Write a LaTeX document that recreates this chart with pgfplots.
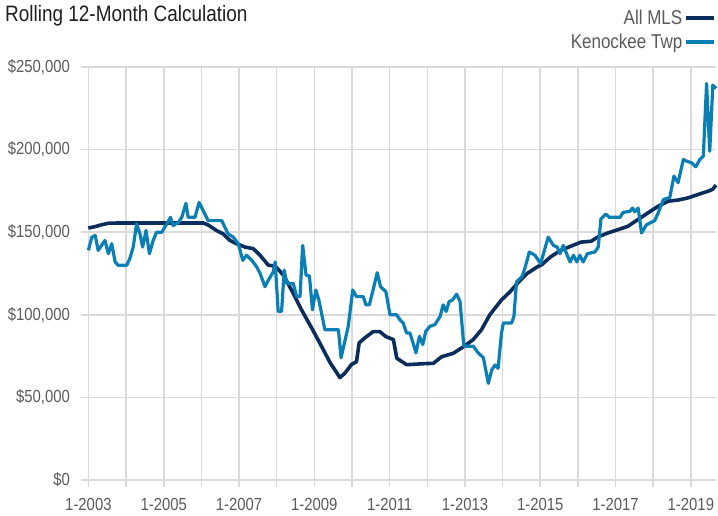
\documentclass[border=0pt]{standalone}
\usepackage{fontspec}
\setmainfont{Liberation Sans}[FakeStretch=0.85]
\usepackage{pgfplots}
\usepackage{pgfplotstable}
\pgfplotsset{compat=1.18}
\definecolor{navy}{HTML}{0B2D5C}
\definecolor{kblue}{HTML}{0A7FB6}
\definecolor{gridc}{HTML}{DADADA}
\definecolor{labc}{HTML}{5A5A5A}

\pgfplotstableread{
t v
2003.0 152.5
2003.2 153.5
2003.35 154.5
2003.55 155.5
2004.0 155.6
2005.0 155.6
2006.05 155.6
2006.18 154.4
2006.4 151
2006.58 149
2006.76 145
2006.94 143
2007.16 141
2007.38 140
2007.56 136
2007.78 130
2007.96 129.5
2008.18 124
2008.44 113
2008.66 103
2008.93 92
2009.19 81
2009.42 71
2009.68 62
2009.81 64.6
2009.99 70
2010.12 71.6
2010.19 83
2010.34 86
2010.56 89.8
2010.74 89.8
2010.9 86.8
2011.1 85
2011.19 73.7
2011.45 69.8
2011.98 70.5
2012.16 70.6
2012.38 74.6
2012.69 76.7
2012.95 80.5
2013.22 85
2013.44 91
2013.66 100
2013.97 109
2014.2 114
2014.43 120
2014.65 125
2014.92 129
2015.05 130.5
2015.27 135
2015.54 139
2015.81 141.5
2016.08 144
2016.35 144.5
2016.52 147
2016.79 149.5
2017.06 151.5
2017.33 153.6
2017.59 157.6
2017.86 161.7
2018.13 165.7
2018.4 168.8
2018.67 169.5
2018.93 170.8
2019.2 172.9
2019.47 174.9
2019.58 176
2019.667 178.5
}\mls

\pgfplotstableread{
t v
2003.0 139
2003.09 147
2003.18 148
2003.26 139
2003.35 142
2003.44 145
2003.53 137
2003.62 143
2003.71 132
2003.79 130
2004.02 130
2004.1 134
2004.19 141
2004.28 155
2004.37 149
2004.44 141
2004.53 151
2004.62 137
2004.72 145
2004.81 150
2004.95 150
2005.08 155
2005.18 159
2005.25 154
2005.39 156
2005.48 159
2005.59 167.5
2005.65 159
2005.83 159
2005.94 168
2006.05 163
2006.18 157
2006.54 157
2006.71 149
2006.85 147
2006.98 143
2007.1 133
2007.2 136
2007.34 133
2007.47 129
2007.56 125
2007.69 117
2007.78 121
2007.91 126
2007.96 132
2008.04 102
2008.13 102
2008.2 127
2008.27 119
2008.44 119
2008.53 111
2008.62 111
2008.69 142
2008.78 124
2008.87 123.5
2008.95 103
2009.04 115
2009.12 109
2009.28 91
2009.64 91
2009.71 74
2009.9 93
2010.02 115
2010.12 111
2010.3 111
2010.37 106
2010.46 106
2010.56 115
2010.67 125.5
2010.76 117
2010.9 114
2011.01 100
2011.19 100
2011.27 97
2011.36 95
2011.45 89
2011.54 89
2011.7 77
2011.79 87
2011.88 82
2011.96 90
2012.07 93
2012.2 94
2012.34 99
2012.42 106
2012.5 102
2012.58 108
2012.67 109
2012.78 112.5
2012.87 108
2012.97 81
2013.22 81
2013.35 77
2013.49 74
2013.62 58.5
2013.71 66.6
2013.8 69.6
2013.88 67.6
2013.97 88.8
2014.02 95
2014.24 95
2014.3 99
2014.37 120
2014.51 123
2014.59 128
2014.71 138
2014.86 136
2015.01 131
2015.21 147
2015.35 142
2015.45 141
2015.52 137
2015.61 142
2015.79 132
2015.88 136
2015.97 132
2016.05 136
2016.14 132
2016.25 137
2016.45 138
2016.54 141
2016.61 158
2016.74 161
2016.83 159
2017.12 159
2017.2 162
2017.38 162.6
2017.45 164.6
2017.51 162.4
2017.6 164.6
2017.69 149.5
2017.82 154.5
2018.04 157
2018.13 161.6
2018.27 169.8
2018.44 171
2018.55 184
2018.66 180
2018.8 194
2018.89 193
2019.02 192
2019.13 189.6
2019.24 194
2019.33 196
2019.417 240
2019.5 199
2019.583 239
2019.667 237
}\kenockee

\begin{document}
\begin{tikzpicture}
\useasboundingbox (-88.4pt,-35pt) rectangle (629.6pt,480pt);
\begin{axis}[
  at={(0,0)}, anchor=south west,
  scale only axis, width=627.6pt, height=413pt,
  xmin=2003, xmax=2019.667, ymin=0, ymax=250,
  axis line style={draw=none},
  xtick={2003,2005,...,2019},
  minor xtick={2004,2006,...,2018},
  xticklabels={1-2003,1-2005,1-2007,1-2009,1-2011,1-2013,1-2015,1-2017,1-2019},
  ytick={0,50,...,250},
  yticklabels={\$0,{\$50,000},{\$100,000},{\$150,000},{\$200,000},{\$250,000}},
  grid=both,
  major grid style={gridc, line width=1.6pt},
  minor grid style={gridc, line width=1.6pt},
  tick style={gridc, line width=1.6pt},
  minor tick style={gridc, line width=1.6pt},
  tick align=outside,
  major tick length=7pt, minor tick length=7pt,
  xtick pos=bottom, ytick pos=left,
  ticklabel style={font=\fontsize{17.5}{20}\selectfont, text=labc},
  xticklabel style={anchor=base, inner sep=0pt, yshift=-23pt},
  yticklabel style={xshift=-8pt},
  clip=false,
  legend plot pos=right,
  legend cell align=right,
  legend style={at={(1,1.143)}, anchor=north east, draw=none, fill=none,
    font=\fontsize{20}{22}\selectfont, text=labc, inner sep=0pt, row sep=4pt,
    /tikz/every even column/.append style={column sep=0pt}},
  legend image code/.code={\draw[#1, line width=3.5pt] (0pt,0pt) -- (28pt,0pt);},
]
\addplot[navy, line width=3.6pt, line join=round] table[x=t, y=v] {\mls};
\addlegendentry{All MLS}
\addplot[kblue, line width=3.2pt, line join=round] table[x=t, y=v] {\kenockee};
\addlegendentry{Kenockee Twp}
\end{axis}
\node[anchor=base west, inner sep=0pt, font=\fontsize{22.3}{24}\selectfont, text=black!88] at (-83.4pt,458pt) {Rolling 12-Month Calculation};
\end{tikzpicture}
\end{document}
